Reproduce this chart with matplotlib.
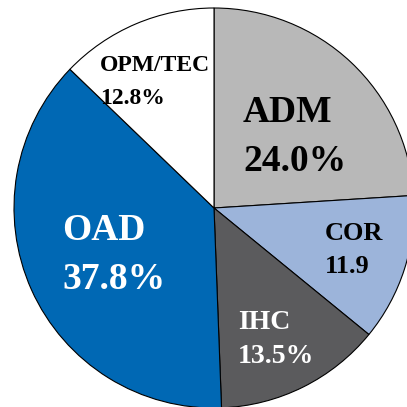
import matplotlib.pyplot as plt

# pie data (clockwise from 12 o'clock)
labels  = ["ADM", "COR", "IHC", "OAD", "OPM/TEC"]
shares  = [24.0, 11.9, 13.5, 37.8, 12.8]
value_text = ["24.0%", "11.9", "13.5%", "37.8%", "12.8%"]
colors  = ["#b8b8b8", "#9cb4da", "#5b5b5d", "#0068b4", "#ffffff"]
text_colors = ["black", "black", "white", "white", "black"]
font_sizes  = [27, 19, 20, 27, 17]

# label placement in pixels: left x, baseline of name, baseline of value
label_px = [(243, 122, 171),
            (325, 240, 273),
            (238, 329, 363),
            (62, 240, 289),
            (100, 71, 104)]

CX, CY, R = 214, 208, 200  # pie centre and radius in pixels


def px_to_data(px, py):
    return (px - CX) / R, (CY - py) / R


fig = plt.figure(figsize=(4.07, 4.07), dpi=100)
ax = fig.add_axes([0, 0, 1, 1])

ax.pie(shares, colors=colors, startangle=90, counterclock=False,
       wedgeprops=dict(edgecolor="black", linewidth=0.8))

for i in range(len(labels)):
    x0, b1, b2 = label_px[i]
    xa, ya = px_to_data(x0, b1)
    xb, yb = px_to_data(x0, b2)
    font = dict(family="Liberation Serif", weight="bold",
                size=font_sizes[i], color=text_colors[i])
    ax.text(xa, ya, labels[i], ha="left", va="baseline", **font)
    ax.text(xb, yb, value_text[i], ha="left", va="baseline", **font)

ax.set_xlim((0 - CX) / R, (407 - CX) / R)
ax.set_ylim((CY - 407) / R, CY / R)
ax.set_aspect("equal")
ax.axis("off")

fig.savefig("out.png", dpi=100)
